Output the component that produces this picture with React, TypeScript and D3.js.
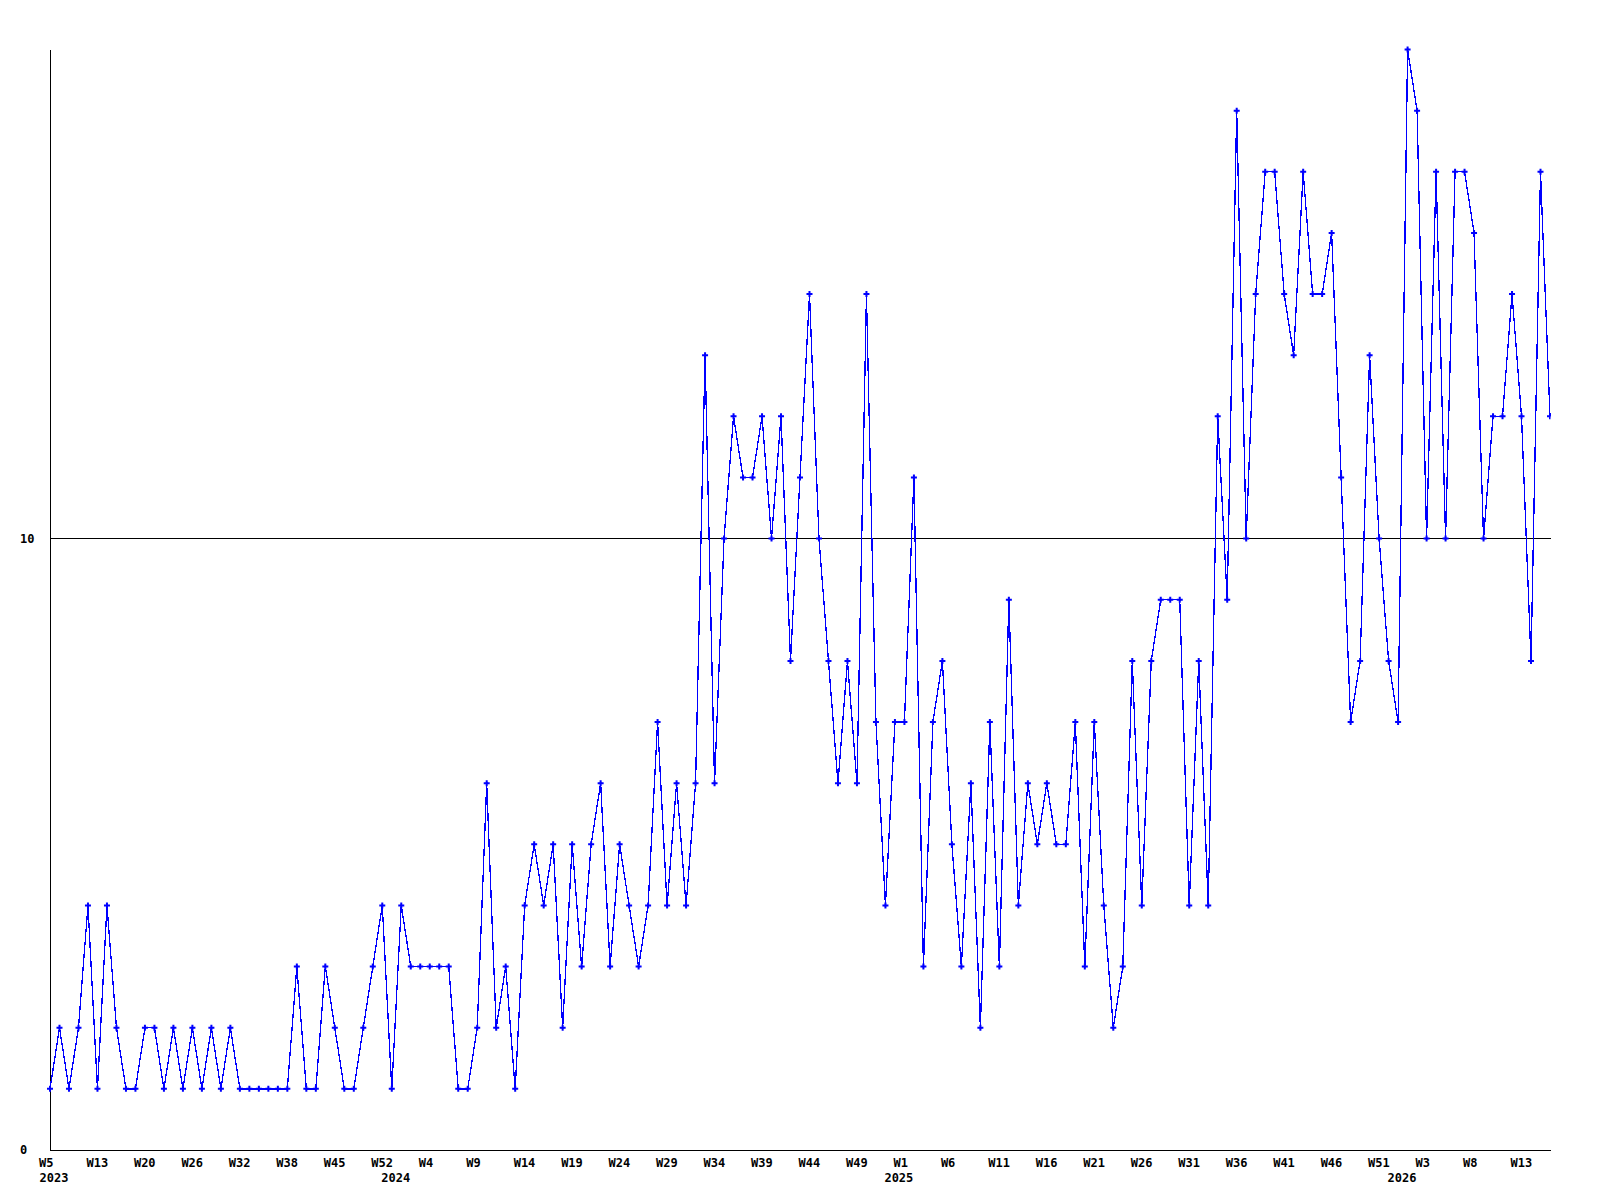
import React from "react";
import * as d3 from "d3";

// Weekly values, split by year (first point of each year is its week 0/first week)
const values2023 = [1, 2, 1, 2, 4, 1, 4, 2, 1, 1, 2, 2, 1, 2, 1, 2, 1, 2, 1, 2, 1, 1, 1, 1, 1, 1, 3, 1, 1, 3, 2, 1, 1, 2, 3, 4];
const values2024 = [1, 4, 3, 3, 3, 3, 3, 1, 1, 2, 6, 2, 3, 1, 4, 5, 4, 5, 2, 5, 3, 5, 6, 3, 5, 4, 3, 4, 7, 4, 6, 4, 6, 13, 6, 10, 12, 11, 11, 12, 10, 12, 8, 11, 14, 10, 8, 6, 8, 6, 14, 7, 4];
const values2025 = [7, 7, 11, 3, 7, 8, 5, 3, 6, 2, 7, 3, 9, 4, 6, 5, 6, 5, 5, 7, 3, 7, 4, 2, 3, 8, 4, 8, 9, 9, 9, 4, 8, 4, 12, 9, 17, 10, 14, 16, 16, 14, 13, 16, 14, 14, 15, 11, 7, 8, 13, 10, 8];
const values2026 = [7, 18, 17, 10, 16, 10, 16, 16, 15, 10, 12, 12, 14, 12, 8, 16, 12];

const years = ["2023", "2024", "2025", "2026"];
const yearValues = [values2023, values2024, values2025, values2026];

// Week tick labels, one every 5 points starting at the first point
const weekTicks = [
  "W5", "W13", "W20", "W26", "W32", "W38", "W45", "W52",
  "W4", "W9", "W14", "W19", "W24", "W29", "W34", "W39", "W44", "W49",
  "W1", "W6", "W11", "W16", "W21", "W26", "W31", "W36", "W41", "W46", "W51",
  "W3", "W8", "W13",
];
const tickEvery = 5;

const yTickValues = [0, 10];
const yMax = 18;

const values: number[] = yearValues.flat();
const yearStarts: number[] = [];
{
  let acc = 0;
  for (const arr of yearValues) {
    yearStarts.push(acc);
    acc += arr.length;
  }
}

export default function App() {
  const W = 1600;
  const H = 1200;
  const left = 50;
  const right = 1550;
  const bottom = 1150;
  const top = 50;

  const idx = values.map((_, i) => i);
  const x = d3.scalePoint<number>().domain(idx).range([left, right]);
  const y = d3.scaleLinear().domain([0, yMax]).range([bottom, 49.5]);

  const line = d3
    .line<number>()
    .x((_, i) => x(i) as number)
    .y((d) => y(d));

  const font = "'DejaVu Sans Mono', 'Liberation Mono', monospace";
  const fs = 12;
  const cross = "M-3,0H3M0,-3V3";

  return (
    <svg
      width={W}
      height={H}
      style={{ position: "absolute", left: 0, top: 0, background: "#fff" }}
    >
      <defs>
        <clipPath id="plotclip">
          <rect x={left - 5} y={0} width={right - left + 5.5} height={H} />
        </clipPath>
      </defs>
      <rect x={0} y={0} width={W} height={H} fill="#fff" />

      {/* axes */}
      <line x1={left} x2={left} y1={top} y2={bottom} stroke="#000" strokeWidth={1} shapeRendering="crispEdges" />
      <line x1={left} x2={right + 1} y1={bottom} y2={bottom} stroke="#000" strokeWidth={1} shapeRendering="crispEdges" />

      {/* reference lines / y labels */}
      {yTickValues.map((v) => (
        <g key={v}>
          {v > 0 && (
            <line x1={left} x2={right + 1} y1={y(v)} y2={y(v)} stroke="#000" strokeWidth={1} shapeRendering="crispEdges" />
          )}
          <text x={20} y={y(v) + 4} fontFamily={font} fontWeight="bold" fontSize={fs} fill="#000">
            {v}
          </text>
        </g>
      ))}

      {/* data line */}
      <path d={line(values) || ""} fill="none" stroke="#0000ff" strokeWidth={1.3} shapeRendering="crispEdges" />
      <g clipPath="url(#plotclip)">
        {values.map((d, i) => (
          <g key={i} transform={`translate(${x(i)},${y(d)})`}>
            <path d={cross} stroke="#0000ff" strokeWidth={2} fill="none" />
            <path d="M-1.5,0L0,-1.5L1.5,0L0,1.5Z" fill="#0000ff" />
          </g>
        ))}
      </g>

      {/* week labels */}
      {weekTicks.map((lbl, k) => (
        <text
          key={k}
          x={(x(k * tickEvery) as number) - 11}
          y={bottom + 17}
          fontFamily={font}
          fontWeight="bold"
          fontSize={fs}
          fill="#000"
        >
          {lbl}
        </text>
      ))}

      {/* year labels */}
      {years.map((yr, k) => (
        <text
          key={yr}
          x={(x(yearStarts[k]) as number) - 10.5}
          y={bottom + 32}
          fontFamily={font}
          fontWeight="bold"
          fontSize={fs}
          fill="#000"
        >
          {yr}
        </text>
      ))}
    </svg>
  );
}
